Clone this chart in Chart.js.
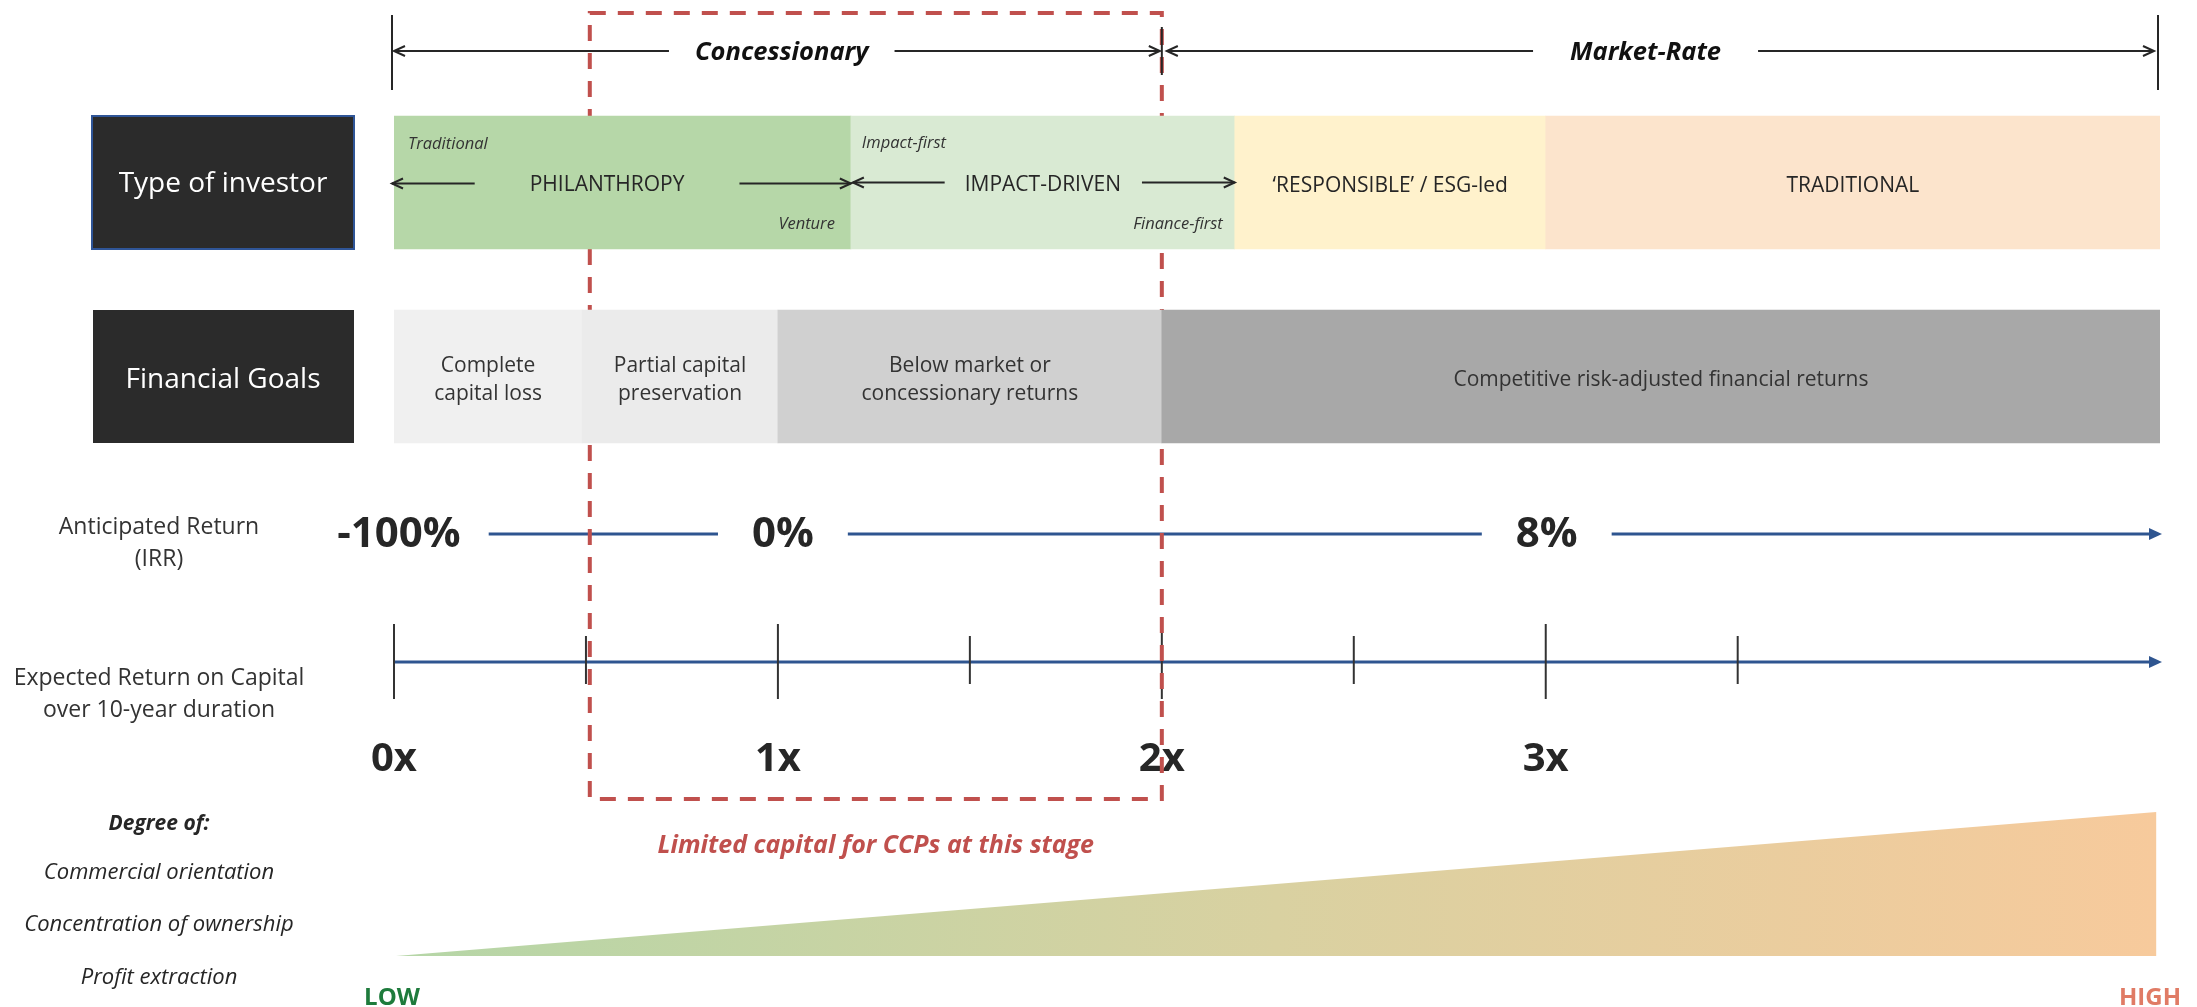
<!DOCTYPE html>
<html>
<head>
<meta charset="utf-8">
<script src="https://cdn.jsdelivr.net/npm/chart.js@4.4.1/dist/chart.umd.min.js"></script>
<style>
  html, body { margin: 0; padding: 0; background: #fff; }
  #wrap { width: 2197px; height: 1007px; position: relative; }
</style>
</head>
<body>
<div id="wrap"><canvas id="myChart"></canvas></div>
<script>
// x values are capital multiples over 10 years (0x, 1x, 2x ...)
const investorTypes = ['PHILANTHROPY', 'IMPACT-DRIVEN', '\u2018RESPONSIBLE\u2019 / ESG-led', 'TRADITIONAL'];
const investorBounds = [0, 1.19, 2.19, 3.0, 4.6];
const investorColors = ['#b6d7a8', '#d9ead3', '#fff2cc', '#fce4cc'];

const goalLabels = [['Complete', 'capital loss'], ['Partial capital', 'preservation'], ['Below market or', 'concessionary returns'], ['Competitive risk-adjusted financial returns']];
const goalBounds = [0, 0.49, 1, 2, 4.6];
const goalColors = ['#f0f0f0', '#ebebeb', '#d0d0d0', '#a8a8a8'];

const regimes = ['Concessionary', 'Market-Rate'];
const regimeBounds = [0, 2, 4.6];

const irrLabels = ['-100%', '0%', '8%'];
const irrAt = [0, 1, 3];

const multipleTicks = [0, 0.5, 1, 1.5, 2, 2.5, 3, 3.5];
const multipleLabels = ['0x', '1x', '2x', '3x'];

const limitedRange = [0.51, 2];
const degreeRange = [0, 4.59];
const degreeLevel = [0, 1];

// layout (pixels)
const ROW_TYPE = 182.5, ROW_GOAL = 376.5, ROW_H = 133;
const Y_TOP = 51, Y_IRR = 534, Y_AXIS = 662, Y_MULT = 757;
const LEFT_CX = 159;
const FONT = "'Open Sans', 'Noto Sans', sans-serif";
const INK = '#262626';
const BLUE = '#2e5590';
const RED = '#c0504d';

const barData = [];
const barColors = [];
investorTypes.forEach((t, i) => {
    barData.push({ y: ROW_TYPE, x: [investorBounds[i], investorBounds[i + 1]] });
    barColors.push(investorColors[i]);
});
goalLabels.forEach((t, i) => {
    barData.push({ y: ROW_GOAL, x: [goalBounds[i], goalBounds[i + 1]] });
    barColors.push(goalColors[i]);
});

// canvas 'middle' sits a little high for Open Sans, nudge down
function text(ctx, s, x, y, font, color, align) {
    ctx.font = font;
    ctx.fillStyle = color;
    ctx.textAlign = align || 'center';
    ctx.textBaseline = 'middle';
    ctx.fillText(s, x, y + 3);
}

function line(ctx, x1, y1, x2, y2, color, w) {
    ctx.strokeStyle = color;
    ctx.lineWidth = w;
    ctx.beginPath();
    ctx.moveTo(x1, y1);
    ctx.lineTo(x2, y2);
    ctx.stroke();
}

// open V arrow, head at x2
function openArrow(ctx, x1, x2, y) {
    const dir = x2 > x1 ? 1 : -1;
    line(ctx, x1, y, x2, y, INK, 2);
    ctx.beginPath();
    ctx.moveTo(x2 - dir * 11, y - 5);
    ctx.lineTo(x2, y);
    ctx.lineTo(x2 - dir * 11, y + 5);
    ctx.stroke();
}

function solidHead(ctx, x, y) {
    ctx.fillStyle = BLUE;
    ctx.beginPath();
    ctx.moveTo(x, y);
    ctx.lineTo(x - 13, y - 6);
    ctx.lineTo(x - 13, y + 6);
    ctx.closePath();
    ctx.fill();
}

const diagramPlugin = {
    id: 'diagram',
    beforeDatasetsDraw(chart) {
        const ctx = chart.ctx;
        const xs = chart.scales.x;
        const px = v => xs.getPixelForValue(v);
        ctx.save();

        // IRR line with gaps for its labels
        const irrFont = 'bold 42px ' + FONT;
        const irrShift = [5, 5, 1];
        let cur = null;
        const endX = px(4.6) + 2;
        irrLabels.forEach((s, i) => {
            const cx = px(irrAt[i]) + irrShift[i];
            ctx.font = irrFont;
            const w = ctx.measureText(s).width;
            if (cur !== null) line(ctx, cur, Y_IRR, cx - w / 2 - 34, Y_IRR, BLUE, 3);
            cur = cx + w / 2 + (i === 0 ? 28 : 34);
            text(ctx, s, cx, Y_IRR - 2, irrFont, INK);
        });
        line(ctx, cur, Y_IRR, endX - 10, Y_IRR, BLUE, 3);
        solidHead(ctx, endX, Y_IRR);

        // capital multiple axis
        line(ctx, px(0), Y_AXIS, endX - 10, Y_AXIS, BLUE, 3);
        solidHead(ctx, endX, Y_AXIS);
        multipleTicks.forEach(v => {
            const major = Number.isInteger(v);
            line(ctx, px(v), major ? Y_AXIS - 38 : Y_AXIS - 26, px(v), major ? Y_AXIS + 37 : Y_AXIS + 22, '#333', 2);
        });
        multipleLabels.forEach((s, i) => {
            text(ctx, s, px(i), Y_MULT, 'bold 40px ' + FONT, INK);
        });

        // limited capital dashed box
        ctx.strokeStyle = RED;
        ctx.lineWidth = 4;
        ctx.setLineDash([16, 12]);
        ctx.strokeRect(px(limitedRange[0]), 13, px(limitedRange[1]) - px(limitedRange[0]), 786);
        ctx.setLineDash([]);
        ctx.restore();
    },
    afterDatasetsDraw(chart) {
        const ctx = chart.ctx;
        const xs = chart.scales.x;
        const px = v => xs.getPixelForValue(v);
        ctx.save();

        // row headers
        ctx.fillStyle = '#2b2b2b';
        ctx.fillRect(92, 116, 262, 133);
        ctx.strokeStyle = '#2f5597';
        ctx.lineWidth = 2;
        ctx.strokeRect(92, 116, 262, 133);
        ctx.fillStyle = '#2b2b2b';
        ctx.fillRect(93, 310, 261, 133);
        text(ctx, 'Type of investor', 223, ROW_TYPE - 1, '28px ' + FONT, '#fff');
        text(ctx, 'Financial Goals', 223, ROW_GOAL + 1, '28px ' + FONT, '#fff');

        // investor row labels and arrows
        const rowFont = '21px ' + FONT;
        const subFont = 'italic 16.5px ' + FONT;
        ctx.font = rowFont;
        const philX = px(0.555), impX = px(1.69);
        let w = ctx.measureText(investorTypes[0]).width;
        text(ctx, investorTypes[0], philX, ROW_TYPE, rowFont, INK);
        openArrow(ctx, philX - w / 2 - 55, px(0) - 2, ROW_TYPE + 1);
        openArrow(ctx, philX + w / 2 + 55, px(investorBounds[1]), ROW_TYPE + 1);
        ctx.font = rowFont;
        w = ctx.measureText(investorTypes[1]).width;
        text(ctx, investorTypes[1], impX, ROW_TYPE, rowFont, INK);
        openArrow(ctx, impX - w / 2 - 20, px(investorBounds[1]) + 2, ROW_TYPE);
        openArrow(ctx, impX + w / 2 + 21, px(investorBounds[2]), ROW_TYPE);
        for (let i = 2; i < investorTypes.length; i++) {
            text(ctx, investorTypes[i], (px(investorBounds[i]) + px(investorBounds[i + 1])) / 2, ROW_TYPE + 1, rowFont, INK);
        }
        text(ctx, 'Traditional', px(0) + 14, 141, subFont, '#333', 'left');
        text(ctx, 'Venture', px(investorBounds[1]) - 16, 221, subFont, '#333', 'right');
        text(ctx, 'Impact-first', px(investorBounds[1]) + 11, 140, subFont, '#333', 'left');
        text(ctx, 'Finance-first', px(investorBounds[2]) - 12, 221, subFont, '#333', 'right');

        // goal row labels
        goalLabels.forEach((lines, i) => {
            const cx = (px(goalBounds[i]) + px(goalBounds[i + 1])) / 2;
            lines.forEach((s, j) => {
                const y = ROW_GOAL + (j - (lines.length - 1) / 2) * 28 + 1;
                text(ctx, s, cx, y, rowFont, '#333');
            });
        });

        // top regime brackets
        line(ctx, px(0) - 2, 15, px(0) - 2, 90, INK, 2);
        line(ctx, px(2), 27, px(2), 75, INK, 2);
        line(ctx, px(4.6) - 2, 15, px(4.6) - 2, 90, INK, 2);
        const topFont = 'italic bold 25.5px ' + FONT;
        const regimeAt = [1.01, 3.26];
        const regimeGap = [26, 37];
        regimes.forEach((s, i) => {
            const cx = px(regimeAt[i]);
            ctx.font = topFont;
            const tw = ctx.measureText(s).width;
            text(ctx, s, cx, Y_TOP - 1, topFont, '#111');
            openArrow(ctx, cx - tw / 2 - regimeGap[i], px(regimeBounds[i]) + (i === 0 ? 0 : 5), Y_TOP);
            openArrow(ctx, cx + tw / 2 + regimeGap[i], px(regimeBounds[i + 1]) - (i === 0 ? 2 : 6), Y_TOP);
        });

        // left side captions
        const capFont = '23px ' + FONT;
        text(ctx, 'Anticipated Return', LEFT_CX, 524, capFont, '#333');
        text(ctx, '(IRR)', LEFT_CX, 556, capFont, '#333');
        text(ctx, 'Expected Return on Capital', LEFT_CX, 675, capFont, '#333');
        text(ctx, 'over 10-year duration', LEFT_CX, 707, capFont, '#333');
        text(ctx, 'Degree of:', LEFT_CX, 821, 'italic bold 21px ' + FONT, '#262626');
        text(ctx, 'Commercial orientation', LEFT_CX, 870, 'italic 22px ' + FONT, '#262626');
        text(ctx, 'Concentration of ownership', LEFT_CX, 922, 'italic 22px ' + FONT, '#262626');
        text(ctx, 'Profit extraction', LEFT_CX, 975, 'italic 22px ' + FONT, '#262626');

        // degree wedge
        const x0 = px(degreeRange[0]) + 2, x1 = px(degreeRange[1]);
        const yLevel = l => 956 - l * 144;
        const grad = ctx.createLinearGradient(x0, 0, x1, 0);
        grad.addColorStop(0, '#b5d6a7');
        grad.addColorStop(0.5, '#d9d1a1');
        grad.addColorStop(1, '#f7ca9c');
        ctx.fillStyle = grad;
        ctx.beginPath();
        ctx.moveTo(x0, yLevel(degreeLevel[0]));
        ctx.lineTo(x1, yLevel(degreeLevel[1]));
        ctx.lineTo(x1, yLevel(0));
        ctx.closePath();
        ctx.fill();
        text(ctx, 'LOW', px(0) - 2, 995, 'bold 24px ' + FONT, '#1e7b3c');
        text(ctx, 'HIGH', 2150, 995, 'bold 24px ' + FONT, '#e07b65');

        text(ctx, 'Limited capital for CCPs at this stage', (px(limitedRange[0]) + px(limitedRange[1])) / 2, 843, 'italic bold 25px ' + FONT, RED);
        ctx.restore();
    }
};

const ctx = document.getElementById('myChart').getContext('2d');
new Chart(ctx, {
    type: 'bar',
    data: {
        datasets: [
            {
                data: barData,
                backgroundColor: barColors,
                borderWidth: 0,
                barThickness: ROW_H,
            },
        ],
    },
    options: {
        indexAxis: 'y',
        responsive: true,
        maintainAspectRatio: false,
        animation: false,
        layout: { padding: { left: 394, right: 37, top: 0, bottom: 0 } },
        scales: {
            x: { type: 'linear', min: 0, max: 4.6, display: false },
            y: { type: 'linear', min: 0, max: 1007, reverse: true, offset: false, display: false },
        },
        plugins: {
            legend: { display: false },
            tooltip: { enabled: false },
        },
    },
    plugins: [diagramPlugin],
});
</script>
</body>
</html>
